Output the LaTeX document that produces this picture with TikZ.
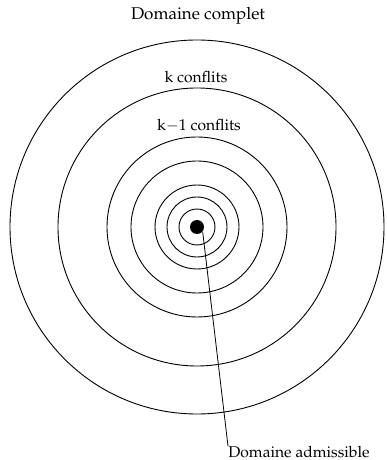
\documentclass[tikz,border=0pt]{standalone}
\usepackage[T1]{fontenc}
\usepackage{mathpazo}
\usepackage{tikz}
\usetikzlibrary{positioning}

\begin{document}
\begin{tikzpicture}[
    ring/.style={draw, line width=0.45pt},
    lbl/.style={font=\fontsize{7.8}{9}\selectfont, inner sep=1pt}
]
\useasboundingbox (-98.5pt,-116.5pt) rectangle (94.5pt,113.5pt);

% Nested domains
\foreach \r in {9,15,21,33,45,69.5,93.5}
  \draw[ring] (0,0) circle[radius=\r pt];

% Admissible domain
\node[circle, fill=black, minimum size=7pt, inner sep=0pt] (dot) at (0,0) {};

% Labels
\node[lbl, font=\fontsize{8.5}{10}\selectfont] (complet) at (0.5pt,105.5pt) {Domaine complet};
\node[lbl] (kconf) at (-0.5pt,75pt) {k conflits};
\node[lbl] (kmconf) at (1pt,50.5pt) {k$-$1 conflits};
\node[lbl, anchor=north west, inner sep=0pt] (adm) at (15.5pt,-109.5pt) {Domaine admissible};

\draw (dot.-40) -- (adm.north west);
\end{tikzpicture}
\end{document}
